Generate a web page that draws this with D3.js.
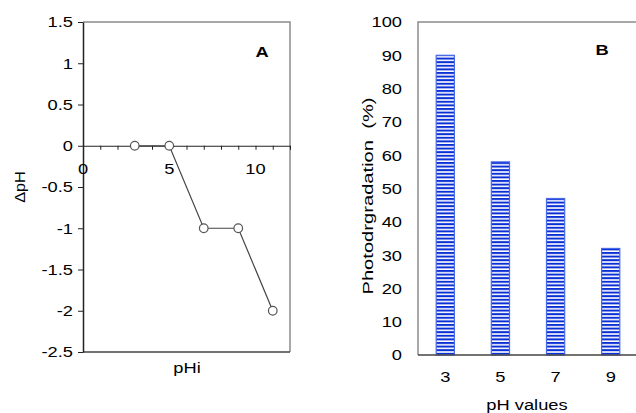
<!DOCTYPE html>
<html>
<head>
<meta charset="utf-8">
<script src="https://cdn.jsdelivr.net/npm/d3@7"></script>
<style>
  body { margin: 0; background: #fff; }
  text { font-family: "Liberation Sans", Arial, sans-serif; fill: #000; }
</style>
</head>
<body>
<svg id="chart" width="636" height="413"></svg>
<script>
// Panel A: change in pH vs initial pH
const pHi = [3, 5, 7, 9, 11];
const deltaPH = [0, 0, -1, -1, -2];
const yTicksA = [1.5, 1, 0.5, 0, -0.5, -1, -1.5, -2, -2.5];
const xLabelsA = [0, 5, 10];

// Panel B: photodegradation at each pH
const pHValues = ['3', '5', '7', '9'];
const photodeg = [90, 58, 47, 32];
const yTicksB = [0, 10, 20, 30, 40, 50, 60, 70, 80, 90, 100];

const svg = d3.select('#chart');
const fontSize = '15.5px';
const S = 1.18; // the source text is drawn a bit wider than Arial

// stretch text horizontally around its own anchor
function widen(sel, s = S) {
    sel.each(function() {
        const t = d3.select(this);
        const x = +t.attr('x') || 0;
        t.attr('x', x / s).attr('transform', `scale(${s},1)`);
    });
}

// ---------- Panel A ----------
const a = {left: 83, right: 290, top: 22, bottom: 352};
const xA = d3.scaleLinear().domain([0, 12]).range([a.left, a.right]);
const yA = d3.scaleLinear().domain([-2.5, 1.5]).range([a.bottom, a.top]);

// frame (top, right, bottom)
svg.append('path')
    .attr('d', `M${a.left},${a.top}H${a.right}V${a.bottom}`)
    .attr('fill', 'none').attr('stroke', '#8c8c8c').attr('stroke-width', 1.5);
svg.append('line')
    .attr('x1', a.left).attr('x2', a.right).attr('y1', a.bottom).attr('y2', a.bottom)
    .attr('stroke', '#444').attr('stroke-width', 1.5);

// y axis
const yAxisA = d3.axisLeft(yA).tickValues(yTicksA).tickSize(5).tickSizeOuter(0)
    .tickFormat(d => String(d));
const gyA = svg.append('g').attr('transform', `translate(${a.left},0)`).call(yAxisA);
gyA.select('.domain').attr('stroke', '#222').attr('stroke-width', 1.5);
gyA.selectAll('.tick line').attr('stroke', '#222');
gyA.selectAll('text').style('font-size', fontSize).attr('x', -10).call(widen);

// x axis at y = 0, minor ticks every unit
const xAxisA = d3.axisBottom(xA).ticks(12).tickSize(4).tickSizeOuter(0).tickFormat('');
const gxA = svg.append('g').attr('transform', `translate(0,${yA(0)})`).call(xAxisA);
gxA.select('.domain').attr('stroke', '#222').attr('stroke-width', 1.2);
gxA.selectAll('.tick line').attr('stroke', '#222');
svg.selectAll('.xlabA').data(xLabelsA).join('text')
    .attr('class', 'xlabA')
    .attr('x', d => xA(d)).attr('y', yA(0) + 28)
    .attr('text-anchor', 'middle')
    .style('font-size', fontSize)
    .text(d => d)
    .call(widen);

// line + markers
const pointsA = pHi.map((x, i) => ({x, y: deltaPH[i]}));
svg.append('path')
    .datum(pointsA)
    .attr('d', d3.line().x(d => xA(d.x)).y(d => yA(d.y)))
    .attr('fill', 'none').attr('stroke', '#444').attr('stroke-width', 1.2);
svg.selectAll('.ptA').data(pointsA).join('circle')
    .attr('class', 'ptA')
    .attr('cx', d => xA(d.x)).attr('cy', d => yA(d.y)).attr('r', 4.3)
    .attr('fill', '#fff').attr('stroke', '#555').attr('stroke-width', 1.2);

svg.append('text').attr('x', 262).attr('y', 57).attr('text-anchor', 'middle')
    .style('font-size', fontSize).style('font-weight', 'bold').text('A').call(widen);
svg.append('text').attr('x', 187).attr('y', 373).attr('text-anchor', 'middle')
    .style('font-size', fontSize).text('pHi').call(widen);
svg.append('text')
    .attr('transform', `translate(25,187) rotate(-90) scale(1.05,1)`)
    .attr('text-anchor', 'middle')
    .style('font-size', fontSize).text('ΔpH');

// ---------- Panel B ----------
const b = {left: 418, right: 638, top: 22, bottom: 355};
const xB = d3.scaleBand().domain(pHValues).range([b.left, b.right]).paddingInner(0.67).paddingOuter(0.33);
const yB = d3.scaleLinear().domain([0, 100]).range([b.bottom, b.top]);

const defs = svg.append('defs');
const pat = defs.append('pattern')
    .attr('id', 'stripes').attr('patternUnits', 'userSpaceOnUse')
    .attr('width', 10).attr('height', 3.6);
pat.append('rect').attr('width', 10).attr('height', 3.6).attr('fill', '#fff');
pat.append('rect').attr('width', 10).attr('height', 2).attr('fill', '#0a2fd4');

// frame
svg.append('path')
    .attr('d', `M${b.left},${b.bottom}V${b.top}H${b.right}`)
    .attr('fill', 'none').attr('stroke', '#8c8c8c').attr('stroke-width', 1.5);

svg.selectAll('.barB').data(photodeg).join('rect')
    .attr('class', 'barB')
    .attr('x', (d, i) => xB(pHValues[i]))
    .attr('width', xB.bandwidth())
    .attr('y', d => yB(d))
    .attr('height', d => b.bottom - yB(d))
    .attr('fill', 'url(#stripes)')
    .attr('stroke', '#4a6ae6').attr('stroke-width', 1.2);

svg.append('line')
    .attr('x1', b.left).attr('x2', b.right).attr('y1', b.bottom).attr('y2', b.bottom)
    .attr('stroke', '#444').attr('stroke-width', 1.5);

const yAxisB = d3.axisLeft(yB).tickValues(yTicksB).tickSize(0);
const gyB = svg.append('g').attr('transform', `translate(${b.left},0)`).call(yAxisB);
gyB.select('.domain').remove();
gyB.selectAll('text').style('font-size', fontSize).attr('x', -16).call(widen);

const xAxisB = d3.axisBottom(xB).tickSize(0);
const gxB = svg.append('g').attr('transform', `translate(0,${b.bottom})`).call(xAxisB);
gxB.select('.domain').remove();
gxB.selectAll('text').style('font-size', fontSize).attr('y', 16).call(widen);

svg.append('text').attr('x', 602).attr('y', 55).attr('text-anchor', 'middle')
    .style('font-size', fontSize).style('font-weight', 'bold').text('B').call(widen);
svg.append('text').attr('x', 527).attr('y', 410).attr('text-anchor', 'middle')
    .style('font-size', fontSize).text('pH values').call(widen);
svg.append('text')
    .attr('transform', 'translate(373,196) rotate(-90) scale(1.3,1)')
    .attr('text-anchor', 'middle')
    .style('font-size', fontSize).style('white-space', 'pre')
    .text('Photodrgradation  (%)');
</script>
</body>
</html>
